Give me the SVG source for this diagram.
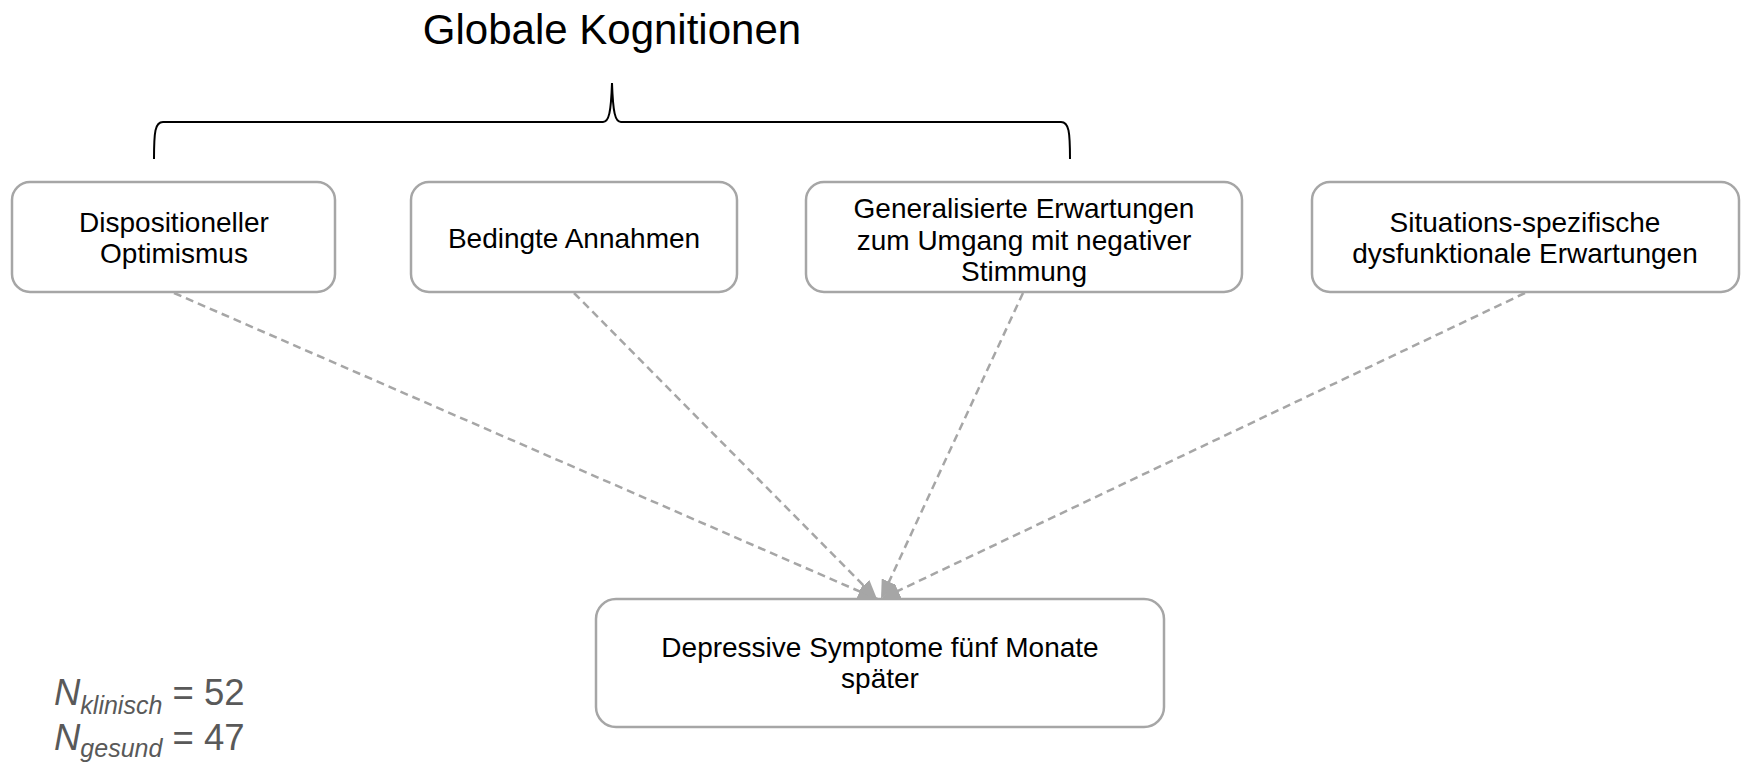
<svg xmlns="http://www.w3.org/2000/svg" width="1742" height="762" viewBox="0 0 1742 762">
<style>
.box{fill:#ffffff;stroke:#a6a6a6;stroke-width:2.5}
.t{font-family:"Liberation Sans",Arial,sans-serif;font-size:28px;fill:#000;text-anchor:middle}
.title{font-family:"Liberation Sans",Arial,sans-serif;font-size:42px;fill:#000;text-anchor:middle}
.edge{stroke:#a6a6a6;stroke-width:2.5;stroke-dasharray:8 5;fill:none;marker-end:url(#ah)}
.n{font-family:"Liberation Sans",Arial,sans-serif;fill:#595959;font-size:36.5px}
.brace{fill:none;stroke:#000;stroke-width:2}
</style>
<defs>
<marker id="ah" markerUnits="userSpaceOnUse" markerWidth="20" markerHeight="16" refX="19" refY="8" orient="auto">
<path d="M0,0 L19,8 L0,16 Z" fill="#a6a6a6"/>
</marker>
</defs>
<rect width="1742" height="762" fill="#ffffff"/>
<g id="title">
<text class="title" x="612" y="44">Globale Kognitionen</text>
<path class="brace" d="M154,159 C154,132 155,122 163,122 L603,122 C609,122 611,112 612,83 C613,112 615,122 621,122 L1061,122 C1069,122 1070,132 1070,159"/>
</g>
<g id="connectors">
<line class="edge" x1="174" y1="293" x2="877" y2="599"/>
<line class="edge" x1="574" y1="293" x2="877" y2="599"/>
<line class="edge" x1="1023" y1="293" x2="881" y2="599"/>
<line class="edge" x1="1525" y1="293" x2="881" y2="599"/>
</g>
<g id="n1">
<rect class="box" x="12" y="182" width="323" height="110" rx="18"/>
<text class="t" x="174" y="232">Dispositioneller</text>
<text class="t" x="174" y="263">Optimismus</text>
</g>
<g id="n2">
<rect class="box" x="411" y="182" width="326" height="110" rx="18"/>
<text class="t" x="574" y="248">Bedingte Annahmen</text>
</g>
<g id="n3">
<rect class="box" x="806" y="182" width="436" height="110" rx="18"/>
<text class="t" x="1024" y="218">Generalisierte Erwartungen</text>
<text class="t" x="1024" y="250">zum Umgang mit negativer</text>
<text class="t" x="1024" y="281">Stimmung</text>
</g>
<g id="n4">
<rect class="box" x="1312" y="182" width="427" height="110" rx="18"/>
<text class="t" x="1525" y="232">Situations-spezifische</text>
<text class="t" x="1525" y="263">dysfunktionale Erwartungen</text>
</g>
<g id="n5">
<rect class="box" x="596" y="599" width="568" height="128" rx="20"/>
<text class="t" x="880" y="657">Depressive Symptome fünf Monate</text>
<text class="t" x="880" y="688">später</text>
</g>
<g id="stats">
<text class="n" x="54" y="705"><tspan font-style="italic">N</tspan><tspan font-style="italic" font-size="25" dy="9">klinisch</tspan><tspan dy="-9"> = 52</tspan></text>
<text class="n" x="54" y="750"><tspan font-style="italic">N</tspan><tspan font-style="italic" font-size="25" dy="7">gesund</tspan><tspan dy="-7"> = 47</tspan></text>
</g>
</svg>
